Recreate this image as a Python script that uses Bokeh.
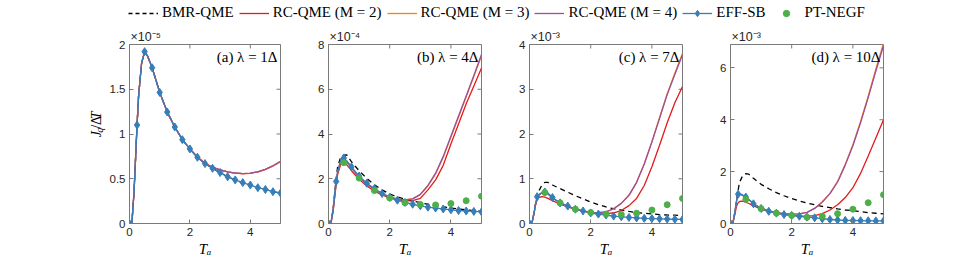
import numpy as np
from bokeh.plotting import figure
from bokeh.models import (Range1d, FixedTicker, Label, Legend, LegendItem, Title,
                          ColumnDataSource, CustomJSTickFormatter)
from bokeh.layouts import column, row
from bokeh.embed import file_html
from bokeh.resources import INLINE

# ---------------- data ----------------
T_line = [0, 0.08, 0.15, 0.2, 0.25, 0.3, 0.4, 0.5, 0.6, 0.75, 1.0, 1.25, 1.5, 1.75, 2.0,
          2.25, 2.5, 2.75, 3.0, 3.25, 3.5, 3.75, 4.0, 4.25, 4.5, 4.75, 5.0]
T_pt = [0.5, 1.0, 1.5, 2.0, 2.5, 3.0, 3.5, 4.0, 4.5, 5.0]

# panel (a) lambda = 1 Delta, values x 1e-5
a_eff = [0, 0.01, 0.35, 0.72, 1.10, 1.42, 1.79, 1.92, 1.87, 1.74, 1.465, 1.245, 1.078, 0.937, 0.833,
         0.74, 0.669, 0.617, 0.569, 0.522, 0.487, 0.457, 0.43, 0.40, 0.38, 0.355, 0.34]
a_bmr = list(a_eff)
a_rc2 = [0, 0.01, 0.35, 0.72, 1.10, 1.42, 1.79, 1.92, 1.87, 1.74, 1.465, 1.245, 1.078, 0.937, 0.833,
         0.74, 0.672, 0.628, 0.598, 0.577, 0.563, 0.557, 0.561, 0.577, 0.604, 0.643, 0.692]
a_rc3 = list(a_rc2)
a_rc4 = [0, 0.01, 0.35, 0.72, 1.10, 1.42, 1.79, 1.92, 1.87, 1.74, 1.465, 1.245, 1.078, 0.937, 0.833,
         0.74, 0.672, 0.629, 0.599, 0.578, 0.564, 0.558, 0.562, 0.578, 0.605, 0.645, 0.695]
a_pt = []

# panel (b) lambda = 4 Delta, values x 1e-4
b_eff = [0, 0.02, 0.6, 1.25, 1.88, 2.35, 2.82, 2.93, 2.8, 2.53, 2.12, 1.8, 1.56, 1.34, 1.17,
         1.04, 0.94, 0.86, 0.79, 0.73, 0.69, 0.65, 0.61, 0.58, 0.56, 0.54, 0.52]
b_bmr = [0, 0.02, 0.65, 1.35, 2.0, 2.55, 2.98, 3.05, 3.07, 2.76, 2.36, 2.02, 1.73, 1.5, 1.32,
         1.19, 1.08, 1.0, 0.93, 0.86, 0.8, 0.74, 0.69, 0.65, 0.61, 0.57, 0.54]
b_rc2 = [0, 0.02, 0.55, 1.15, 1.75, 2.2, 2.65, 2.72, 2.62, 2.36, 1.98, 1.68, 1.45, 1.28, 1.15,
         1.06, 1.01, 1.02, 1.12, 1.5, 1.95, 2.6, 3.55, 4.45, 5.35, 6.15, 6.95]
b_rc3 = [0, 0.02, 0.58, 1.2, 1.82, 2.3, 2.77, 2.87, 2.76, 2.49, 2.08, 1.77, 1.53, 1.34, 1.19,
         1.09, 1.05, 1.1, 1.29, 1.68, 2.22, 2.96, 3.86, 4.76, 5.66, 6.57, 7.5]
b_rc4 = [0, 0.02, 0.58, 1.2, 1.82, 2.3, 2.77, 2.87, 2.76, 2.49, 2.08, 1.77, 1.53, 1.34, 1.19,
         1.09, 1.05, 1.1, 1.3, 1.7, 2.25, 3.0, 3.9, 4.8, 5.7, 6.62, 7.55]
b_pt = [2.72, 2.03, 1.47, 1.14, 0.93, 0.85, 0.83, 0.89, 1.02, 1.22]

# panel (c) lambda = 7 Delta, values x 1e-3
c_eff = [0, 0.01, 0.25, 0.45, 0.6, 0.64, 0.69, 0.705, 0.68, 0.58, 0.46, 0.39, 0.32, 0.28, 0.235,
         0.21, 0.19, 0.165, 0.15, 0.135, 0.125, 0.115, 0.11, 0.105, 0.1, 0.095, 0.09]
c_bmr = [0, 0.01, 0.25, 0.45, 0.62, 0.72, 0.85, 0.92, 0.92, 0.86, 0.78, 0.7, 0.62, 0.55, 0.48,
         0.42, 0.37, 0.33, 0.3, 0.27, 0.245, 0.23, 0.215, 0.2, 0.19, 0.185, 0.18]
c_rc2 = [0, 0.01, 0.22, 0.42, 0.53, 0.58, 0.6, 0.59, 0.56, 0.51, 0.43, 0.37, 0.315, 0.275, 0.24,
         0.22, 0.215, 0.24, 0.29, 0.4, 0.56, 0.85, 1.27, 1.75, 2.25, 2.7, 3.06]
c_rc3 = [0, 0.01, 0.24, 0.44, 0.58, 0.63, 0.68, 0.69, 0.66, 0.57, 0.46, 0.385, 0.32, 0.28, 0.25,
         0.245, 0.26, 0.33, 0.45, 0.63, 0.92, 1.33, 1.83, 2.37, 2.9, 3.36, 3.8]
c_rc4 = [0, 0.01, 0.24, 0.44, 0.58, 0.63, 0.68, 0.69, 0.66, 0.57, 0.46, 0.385, 0.32, 0.28, 0.25,
         0.245, 0.26, 0.33, 0.45, 0.63, 0.92, 1.33, 1.82, 2.35, 2.88, 3.33, 3.77]
c_pt = [0.69, 0.46, 0.32, 0.245, 0.21, 0.2, 0.23, 0.3, 0.42, 0.56]

# panel (d) lambda = 10 Delta, values x 1e-3
d_eff = [0, 0.02, 0.5, 0.9, 1.13, 1.15, 1.1, 1.02, 0.93, 0.76, 0.58, 0.47, 0.4, 0.345, 0.31,
         0.28, 0.245, 0.22, 0.185, 0.155, 0.135, 0.12, 0.115, 0.11, 0.105, 0.1, 0.1]
d_bmr = [0, 0.02, 0.45, 0.9, 1.3, 1.6, 1.85, 1.92, 1.9, 1.74, 1.51, 1.34, 1.19, 1.07, 0.96,
         0.87, 0.79, 0.72, 0.66, 0.61, 0.56, 0.52, 0.49, 0.455, 0.42, 0.395, 0.37]
d_rc2 = [0, 0.02, 0.4, 0.68, 0.8, 0.85, 0.86, 0.82, 0.77, 0.68, 0.56, 0.47, 0.4, 0.35, 0.31,
         0.29, 0.28, 0.3, 0.38, 0.52, 0.72, 1.0, 1.38, 1.93, 2.6, 3.3, 4.0]
d_rc3 = [0, 0.02, 0.5, 0.88, 1.1, 1.13, 1.08, 1.0, 0.92, 0.76, 0.59, 0.49, 0.42, 0.38, 0.36,
         0.37, 0.43, 0.58, 0.83, 1.16, 1.62, 2.28, 3.04, 3.93, 4.91, 5.95, 6.95]
d_rc4 = [0, 0.02, 0.5, 0.88, 1.1, 1.13, 1.08, 1.0, 0.92, 0.76, 0.59, 0.49, 0.42, 0.38, 0.36,
         0.37, 0.43, 0.58, 0.83, 1.15, 1.6, 2.25, 3.0, 3.88, 4.85, 5.88, 6.85]
d_pt = [0.93, 0.57, 0.4, 0.31, 0.24, 0.28, 0.38, 0.55, 0.8, 1.11]

panel_labels = ["(a) λ = 1Δ", "(b) λ = 4Δ", "(c) λ = 7Δ", "(d) λ = 10Δ"]
exponent_labels = ["×10⁻⁵", "×10⁻⁴", "×10⁻³", "×10⁻³"]
x_label = "Tₐ"
y_label_parts = ["J", "q", "/Δ", "T"]
y_max = [2, 8, 4, 6.9]
y_ticks = [[0, 0.5, 1, 1.5, 2], [0, 2, 4, 6, 8], [0, 1, 2, 3, 4], [0, 2, 4, 6]]
x_ticks = [0, 2, 4]
series_names = ["BMR-QME", "RC-QME (M = 2)", "RC-QME (M = 3)", "RC-QME (M = 4)", "EFF-SB", "PT-NEGF"]

# ---------------- style ----------------
C_BMR = "black"
C_RC2 = "#E41A1C"
C_RC3 = "#FF7F00"
C_RC4 = "#984EA3"
C_EFF = "#377EB8"
C_PT = "#4DAF4A"
AXC = "#7a7a7a"
TXT = "#262626"
LW = 1.3
DASH = "5 4"
SERIF = "Liberation Serif"
SANS = "Liberation Sans"
PANEL_H = 243

fmt = CustomJSTickFormatter(code="return String(tick);")


def style_axis(ax, ticks):
    ax.ticker = FixedTicker(ticks=ticks)
    ax.major_tick_in = 4
    ax.major_tick_out = 0
    ax.minor_tick_line_color = None
    ax.axis_line_color = AXC
    ax.major_tick_line_color = AXC
    ax.major_label_text_font = SANS
    ax.major_label_text_color = TXT
    ax.major_label_text_font_size = "11.5px"
    ax.major_label_standoff = 4
    ax.formatter = fmt


def make_panel(i, eff, bmr, rc2, rc3, rc4, pt, width, bl, br):
    ym = y_max[i]
    p = figure(width=width, height=PANEL_H, x_range=Range1d(0, 5), y_range=Range1d(0, ym),
               toolbar_location=None, output_backend="svg",
               min_border_left=bl, min_border_right=br, min_border_top=18, min_border_bottom=46)
    p.outline_line_color = AXC
    p.grid.visible = False
    p.background_fill_color = "white"
    p.border_fill_color = "white"
    style_axis(p.xaxis[0], x_ticks)
    style_axis(p.yaxis[0], y_ticks[i])

    # exponent label above the frame
    p.title.text = exponent_labels[i]
    p.title.align = "left"
    p.title.offset = 1
    p.title.standoff = 2
    p.title.text_font = SANS
    p.title.text_font_style = "normal"
    p.title.text_font_size = "12.5px"
    p.title.text_color = TXT

    # x axis label
    p.add_layout(Title(text=x_label, align="center", offset=-2, standoff=0, text_font=SERIF,
                       text_font_style="italic", text_font_size="15px", text_color="black"),
                 "below")

    # mirrored ticks on top and right (box on)
    p.ray(x=x_ticks, y=[ym] * len(x_ticks), length=4, angle=-np.pi / 2, length_units="screen",
          line_color=AXC, line_width=1)
    p.ray(x=[5] * len(y_ticks[i]), y=y_ticks[i], length=4, angle=np.pi, length_units="screen",
          line_color=AXC, line_width=1)

    p.line(T_line, bmr, line_color=C_BMR, line_width=LW, line_dash=DASH)
    p.line(T_line, rc2, line_color=C_RC2, line_width=LW)
    p.line(T_line, rc3, line_color=C_RC3, line_width=LW)
    p.line(T_line, rc4, line_color=C_RC4, line_width=LW)
    p.line(T_line, eff, line_color=C_EFF, line_width=LW)
    tl = np.array(T_line)
    mask = np.abs(tl * 4 - np.round(tl * 4)) < 1e-9
    p.scatter(tl[mask], np.array(eff)[mask], marker="diamond", size=8,
              fill_color=C_EFF, line_color=C_EFF)
    if len(pt):
        p.scatter(T_pt, pt, marker="circle", size=6, fill_color=C_PT, line_color=C_PT)

    p.add_layout(Label(x=5, y=ym, text=panel_labels[i], x_offset=-3, y_offset=-4,
                       text_font=SERIF, text_font_size="15px", text_color="black",
                       text_baseline="top", text_align="right"))
    return p


# ---------------- y label strip ----------------
YL_W = 106
yl = figure(width=YL_W, height=PANEL_H, x_range=Range1d(0, YL_W), y_range=Range1d(0, PANEL_H),
            toolbar_location=None, output_backend="svg", min_border=0,
            x_axis_type=None, y_axis_type=None)
yl.outline_line_color = None
yl.grid.visible = False
base_x = 96
base_y = 117
for txt, yo, dx, size, style in zip(y_label_parts, [0, 6.2, 11.5, 24.5], [0, 2.5, 0, 0],
                                    ["14px", "10px", "14px", "14px"],
                                    ["italic", "italic", "normal", "italic"]):
    yl.add_layout(Label(x=base_x + dx, y=base_y + yo, text=txt, angle=np.pi / 2,
                        text_font=SERIF, text_font_style=style, text_font_size=size,
                        text_color="black", text_align="left", text_baseline="alphabetic"))

pa = make_panel(0, a_eff, a_bmr, a_rc2, a_rc3, a_rc4, a_pt, 186, 21, 12)
pb = make_panel(1, b_eff, b_bmr, b_rc2, b_rc3, b_rc4, b_pt, 201, 36, 12)
pc = make_panel(2, c_eff, c_bmr, c_rc2, c_rc3, c_rc4, c_pt, 201, 36, 12)
pd = make_panel(3, d_eff, d_bmr, d_rc2, d_rc3, d_rc4, d_pt, 281, 36, 92)

# ---------------- legend strip ----------------
lf = figure(width=975, height=26, x_range=Range1d(0, 1), y_range=Range1d(0, 1),
            toolbar_location=None, output_backend="svg", min_border=0,
            x_axis_type=None, y_axis_type=None)
lf.outline_line_color = None
lf.grid.visible = False
off = ColumnDataSource(data=dict(x=[-5], y=[-5]))
r_bmr = lf.line("x", "y", source=off, line_color=C_BMR, line_width=LW, line_dash="4 3")
r_rc2 = lf.line("x", "y", source=off, line_color=C_RC2, line_width=LW)
r_rc3 = lf.line("x", "y", source=off, line_color=C_RC3, line_width=LW)
r_rc4 = lf.line("x", "y", source=off, line_color=C_RC4, line_width=LW)
r_effl = lf.line("x", "y", source=off, line_color=C_EFF, line_width=LW)
r_effm = lf.scatter("x", "y", source=off, marker="diamond", size=8, fill_color=C_EFF,
                    line_color=C_EFF)
r_pt = lf.scatter("x", "y", source=off, marker="circle", size=6, fill_color=C_PT,
                  line_color=C_PT)
items = [LegendItem(label=series_names[0], renderers=[r_bmr]),
         LegendItem(label=series_names[1], renderers=[r_rc2]),
         LegendItem(label=series_names[2], renderers=[r_rc3]),
         LegendItem(label=series_names[3], renderers=[r_rc4]),
         LegendItem(label=series_names[4], renderers=[r_effl, r_effm]),
         LegendItem(label=series_names[5], renderers=[r_pt])]
leg = Legend(items=items, orientation="horizontal", location=(128, 5), glyph_width=30,
             glyph_height=16, label_height=16, label_standoff=4, spacing=5, padding=0,
             margin=0, border_line_color=None, background_fill_alpha=0,
             label_text_font=SERIF, label_text_font_size="15px", label_text_color="black")
lf.add_layout(leg, "center")

layout = column(lf, row(yl, pa, pb, pc, pd, spacing=0), spacing=0)
open("out.html", "w").write(file_html(layout, INLINE))
